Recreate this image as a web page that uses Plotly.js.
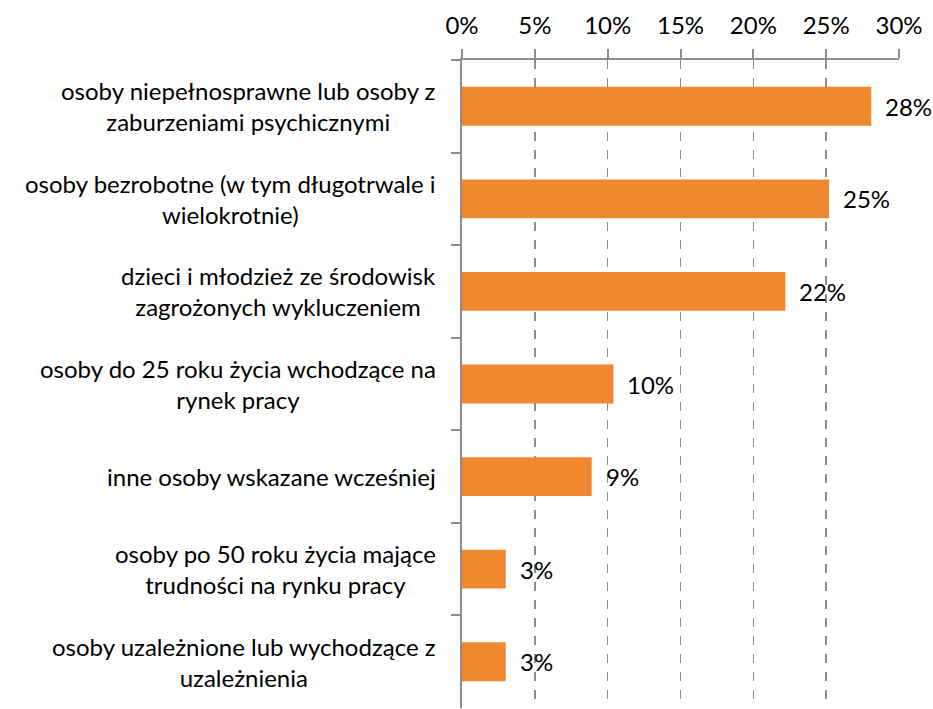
<!DOCTYPE html>
<html>
<head>
<meta charset="utf-8">
<script src="https://cdn.plot.ly/plotly-3.0.1.min.js"></script>
<style>html,body{margin:0;padding:0;background:#fff;}#chart{width:933px;height:709px;}</style>
</head>
<body>
<div id="chart"></div>
<script>
const categories = [
  "osoby niepełnosprawne lub osoby z<br>zaburzeniami psychicznymi",
  "osoby bezrobotne (w tym długotrwale i<br>wielokrotnie)",
  "dzieci i młodzież ze środowisk<br>zagrożonych wykluczeniem",
  "osoby do 25 roku życia wchodzące na<br>rynek pracy",
  "inne osoby wskazane wcześniej",
  "osoby po 50 roku życia mające<br>trudności na rynku pracy",
  "osoby uzależnione lub wychodzące z<br>uzależnienia"
];
const values = [28.1, 25.2, 22.2, 10.4, 8.9, 3.0, 3.0];
const valueLabels = ["28%", "25%", "22%", "10%", "9%", "3%", "3%"];
const tickVals = [0, 5, 10, 15, 20, 25, 30];
const tickText = ["0%", "5%", "10%", "15%", "20%", "25%", "30%"];

const font = "Lato, 'Open Sans', sans-serif";
const annotations = [];
categories.forEach((c, i) => {
  annotations.push({
    x: -0.055, xref: "paper", y: c, yref: "y",
    text: c, showarrow: false, xanchor: "right", yanchor: "middle", align: "center",
    font: {family: font, size: 24, color: "#000"}
  });
  annotations.push({
    x: values[i], xref: "x", y: c, yref: "y",
    text: valueLabels[i], showarrow: false, xanchor: "left", yanchor: "middle",
    xshift: 12, font: {family: font, size: 24, color: "#000"}
  });
});

const trace = {
  type: "bar", orientation: "h",
  x: values, y: categories,
  width: 0.42,
  marker: {color: "#F0882F", line: {width: 0}},
  hoverinfo: "none"
};

const layout = {
  width: 933, height: 709,
  margin: {l: 462, r: 34, t: 60, b: 1, pad: 0},
  paper_bgcolor: "#fff", plot_bgcolor: "#fff",
  showlegend: false,
  font: {family: font, size: 24, color: "#000"},
  xaxis: {
    side: "top", range: [0, 30], tickvals: tickVals, ticktext: tickText,
    showgrid: true, gridcolor: "#8c8c8c", griddash: "dash", gridwidth: 1.5,
    showline: true, linecolor: "#8c8c8c", linewidth: 2,
    ticks: "outside", ticklen: 9, tickwidth: 2, tickcolor: "#8c8c8c",
    ticklabelstandoff: 5,
    zeroline: false, fixedrange: true,
    tickfont: {family: font, size: 24, color: "#000"}
  },
  yaxis: {
    type: "category", autorange: "reversed",
    showticklabels: false, showgrid: false, zeroline: false,
    showline: true, linecolor: "#8c8c8c", linewidth: 2,
    ticks: "outside", tickson: "boundaries", ticklen: 9, tickwidth: 2, tickcolor: "#8c8c8c",
    fixedrange: true
  },
  annotations: annotations
};

Plotly.newPlot("chart", [trace], layout, {displayModeBar: false, staticPlot: true});
</script>
</body>
</html>
